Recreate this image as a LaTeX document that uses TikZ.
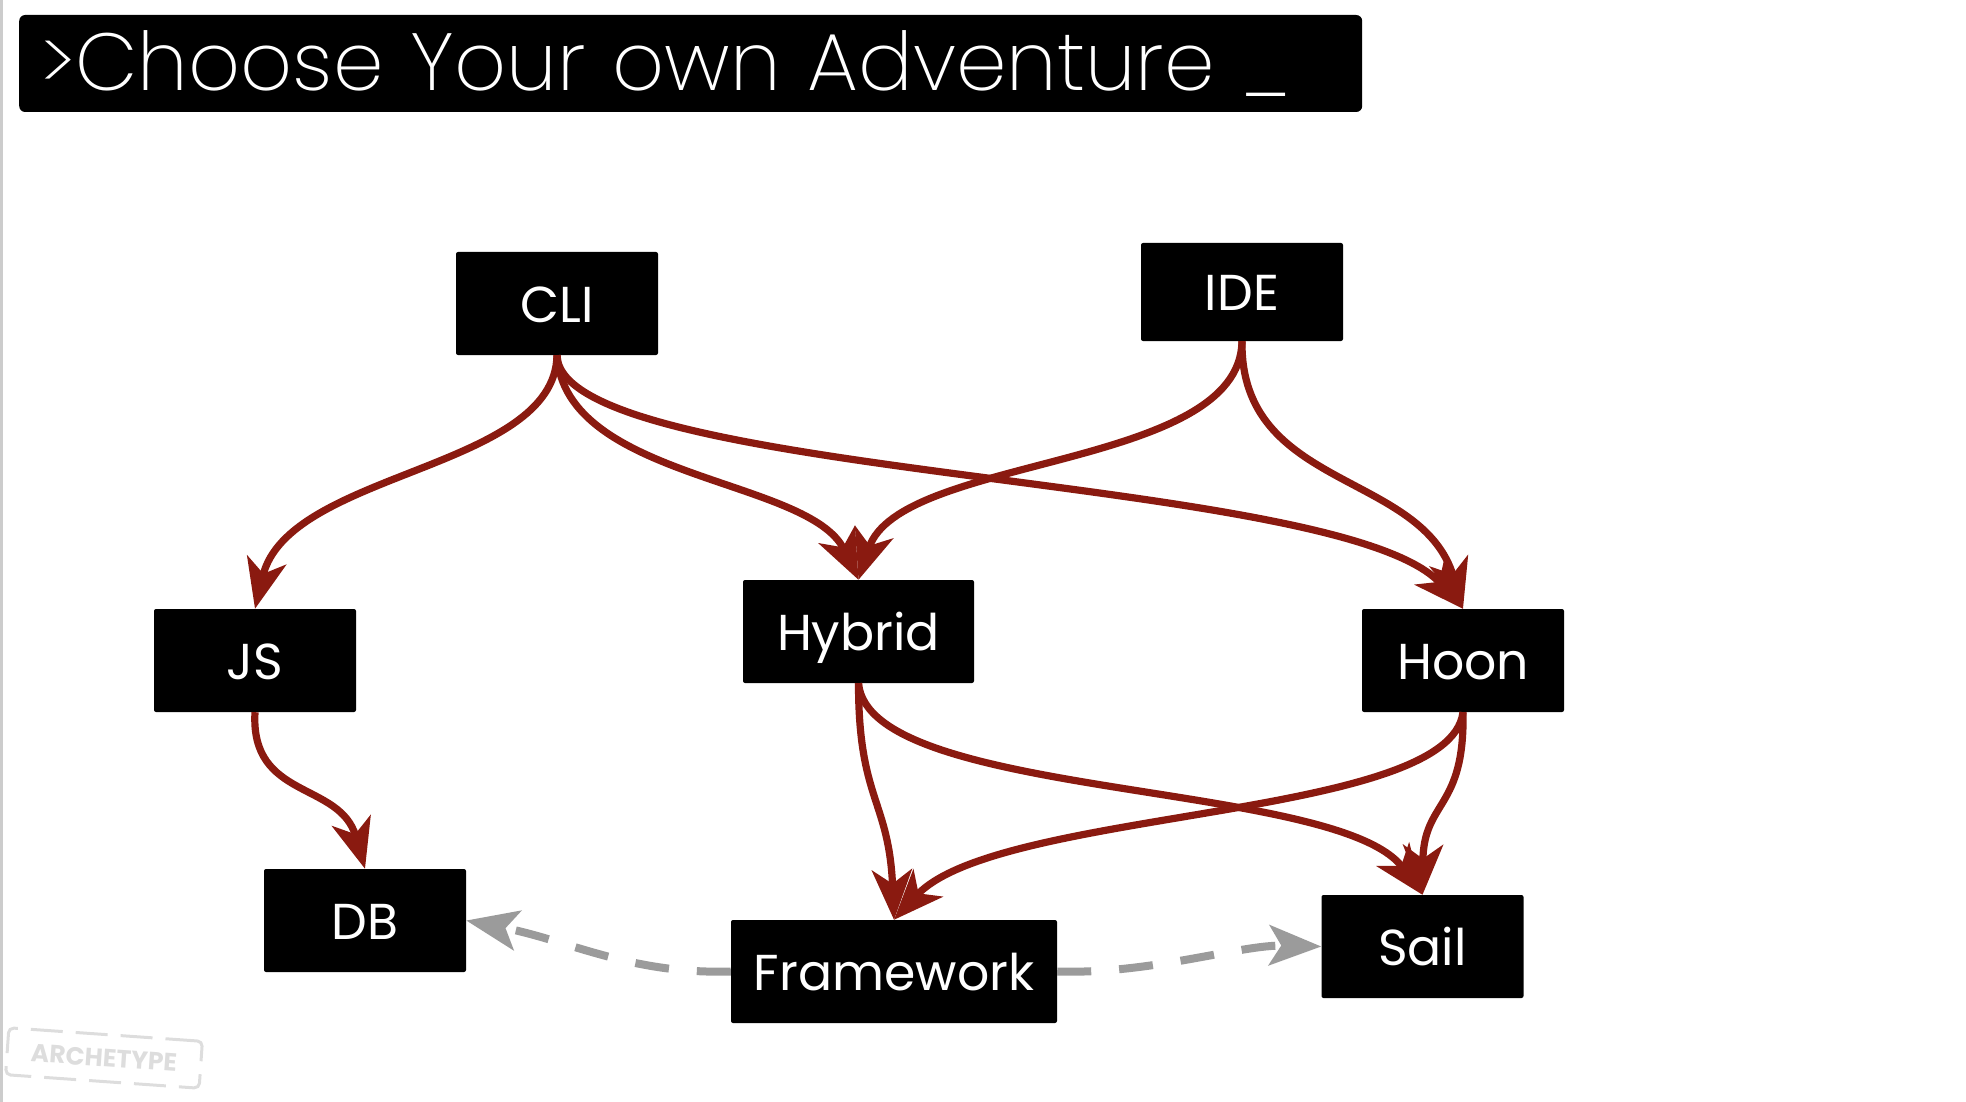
\documentclass[tikz,border=0pt]{standalone}
\usepackage{fontspec}
\usetikzlibrary{arrows.meta}
\setmainfont{Poppins}
\newfontfamily\titlefont{Poppins ExtraLight}
\newfontfamily\boxfont{Poppins}
\definecolor{linkred}{HTML}{8A1A10}
\definecolor{softgray}{HTML}{9B9B9B}
\definecolor{markgray}{HTML}{DDDDDD}
\definecolor{edgegray}{HTML}{CCCCCC}
\tikzset{
  boxnode/.style={fill=black,text=white,rounded corners=2pt,inner sep=0pt,minimum height=103pt,minimum width=202pt,text height=42pt,text depth=5pt,font=\boxfont\fontsize{50.5}{54}\selectfont},
  link/.style={draw=linkred,line width=7.2pt,-{Stealth[length=50pt,width=40pt,inset=14pt]}},
  softlink/.style={draw=softgray,line width=8pt,dash pattern=on 34pt off 28pt,-{Stealth[length=52pt,width=40pt,inset=12pt]}},
}
\begin{document}
\begin{tikzpicture}[x=1pt,y=-1pt]
\useasboundingbox (0,0) rectangle (1966,1102);
\fill[edgegray] (0,0) rectangle (2.5,1102);
\node[fill=black,text=white,rounded corners=6pt,anchor=west,inner ysep=0pt,inner xsep=21pt,minimum height=97pt,text width=1301pt,align=left,font=\titlefont\fontsize{81}{90}\selectfont] (title) at (19,63.5) {>Choose Your own Adventure \_};
\node[boxnode] (cli) at (557,303.5) {CLI};
\node[boxnode,minimum height=98pt] (ide) at (1242,292) {IDE};
\node[boxnode] (js) at (255,660.5) {JS};
\node[boxnode,minimum width=231pt] (hybrid) at (858.5,631.5) {Hybrid};
\node[boxnode] (hoon) at (1463,660.5) {Hoon};
\node[boxnode] (db) at (365,920.5) {DB};
\node[boxnode,minimum width=326pt] (framework) at (894,971.5) {Framework};
\node[boxnode] (sail) at (1422.5,946.5) {Sail};
\node[rotate=-4,draw=markgray,text=markgray,line width=3pt,dash pattern=on 32pt off 13pt,rounded corners=5pt,minimum width=194pt,minimum height=47pt,inner sep=0pt,font=\boxfont\bfseries\fontsize{25}{27}\selectfont] (mark) at (104,1058) {ARCHETYPE};
\draw[link] (cli.south) .. controls +(-2,115) and +(33,-138) .. (js.north);
\draw[link] (cli.south) .. controls +(8,125) and +(-49,-102) .. (hybrid.north);
\draw[link] (cli.south) .. controls +(3,125) and +(-121,-136) .. (hoon.north);
\draw[link] (ide.south) .. controls +(-2,129) and +(41,-125) .. (hybrid.north);
\draw[link] (ide.south) .. controls +(-2,149) and +(-41,-138) .. (hoon.north);
\draw[link] (js.south) .. controls +(-5,88) and +(-25,-88) .. (db.north);
\draw[link] (hybrid.south) .. controls +(0,117) and +(-5,-120) .. (framework.north);
\draw[link] (hybrid.south) .. controls +(10,117) and +(-84,-115) .. (sail.north);
\draw[link] (hoon.south) .. controls +(-13,108) and +(104,-112) .. (framework.north);
\draw[link] (hoon.south) .. controls +(2,98) and +(1,-95) .. (sail.north);
\draw[softlink] (framework.west) .. controls +(-100,3) and +(103,20) .. (db.east);
\draw[softlink] (framework.east) .. controls +(93,3) and +(-81,-2) .. (sail.west);
\end{tikzpicture}
\end{document}
